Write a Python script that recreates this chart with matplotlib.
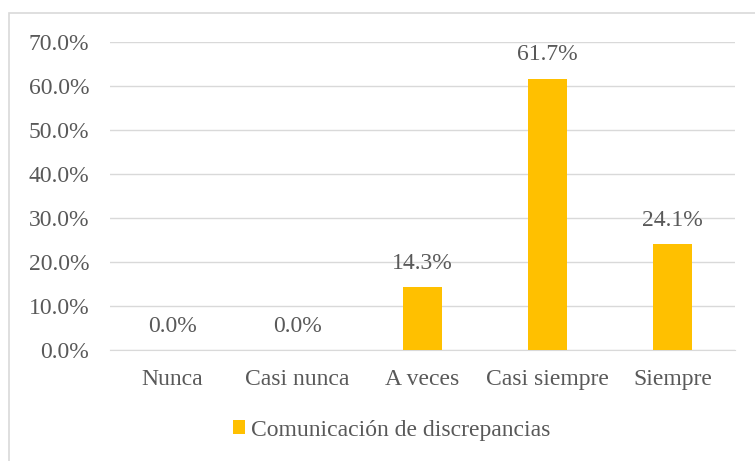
import matplotlib.pyplot as plt
from matplotlib.patches import Rectangle

categories = ['Nunca', 'Casi nunca', 'A veces', 'Casi siempre', 'Siempre']
values = [0.0, 0.0, 14.3, 61.7, 24.1]
series_name = 'Comunicación de discrepancias'

plt.rcParams['font.family'] = ['Liberation Serif', 'DejaVu Serif']
gray = '#595959'
fs = 17

fig = plt.figure(figsize=(7.55, 4.61), dpi=100)
ax = fig.add_axes([0.1457, 0.2408, 0.8278, 0.6681])

x = range(len(categories))
ax.bar(x, values, width=0.31, color='#FFC000', label=series_name, zorder=3)

for xi, v in zip(x, values):
    ax.annotate(f'{v:.1f}%', (xi, v), xytext=(0, 17), textcoords='offset points',
                ha='center', va='center', fontsize=fs, color=gray)

ax.set_xlim(-0.5, len(categories) - 0.5)
ax.set_ylim(0, 70)
ax.set_yticks(range(0, 71, 10))
ax.set_yticklabels([f'{t:.1f}%' for t in range(0, 71, 10)])
ax.set_xticks(list(x))
ax.set_xticklabels(categories)
ax.tick_params(axis='both', length=0, labelsize=fs, labelcolor=gray)
ax.tick_params(axis='y', pad=15)
ax.tick_params(axis='x', pad=14)
ax.grid(axis='y', color='#d9d9d9', linewidth=1, zorder=0)
for s in ['top', 'left', 'right']:
    ax.spines[s].set_visible(False)
ax.spines['bottom'].set_color('#d9d9d9')

leg = fig.legend(loc='center', bbox_to_anchor=(392 / 755, 1 - 430 / 461), frameon=False,
                 fontsize=fs, handlelength=0.5, handleheight=0.5, handletextpad=0.25)
for t in leg.get_texts():
    t.set_color(gray)

fig.patches.append(Rectangle((9 / 755, -0.01), 1.0, 1 - 13 / 461 + 0.01,
                             transform=fig.transFigure, fill=False,
                             edgecolor='#d9d9d9', linewidth=1.2))

fig.savefig('out.png', dpi=100)
